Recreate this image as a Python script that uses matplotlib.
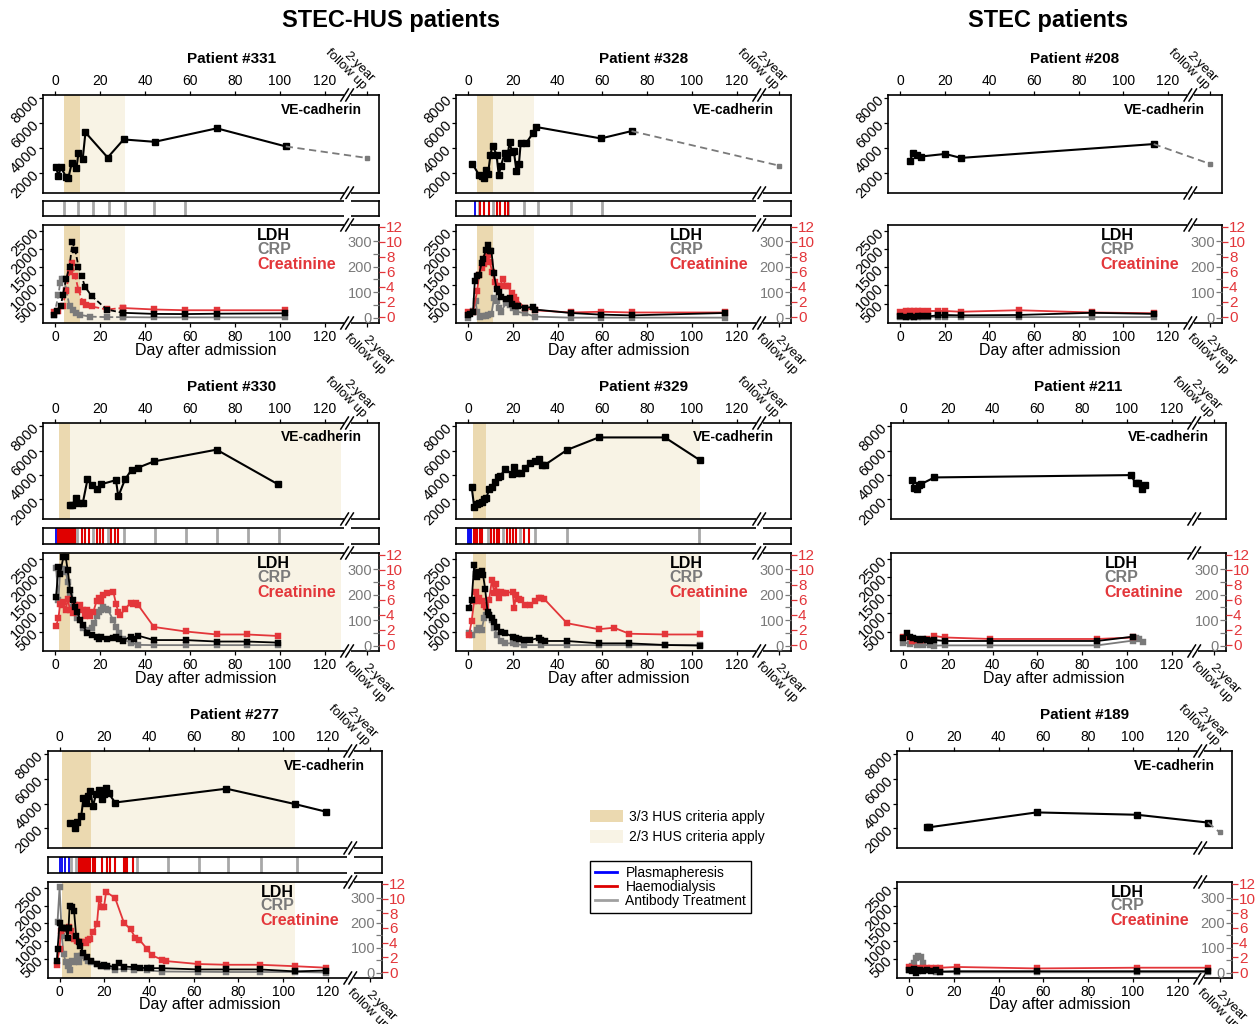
import numpy as np
import matplotlib.pyplot as plt
from matplotlib.patches import Patch
from matplotlib.lines import Line2D

plt.rcParams['font.family'] = ['Liberation Sans', 'DejaVu Sans']

# ---------------- data (day after admission, value) ----------------
# Patient #331
p331_ve_day = [0.4, 1.5, 2.5, 4.9, 5.9, 7.4, 9.5, 10.4, 12.3, 13.5, 23.4, 30.5, 44.3, 72, 102.7]
p331_ve = [2480, 1730, 2480, 1680, 1600, 2810, 2400, 3610, 3160, 5250, 3240, 4690, 4500, 5580, 4130]
p331_ve_fu = 3210
p331_ldh_day = [-0.4, 0.7, 2.5, 3.4, 4.9, 6.4, 7.7, 8.9, 10.4, 11.8, 13.3, 16.3, 23, 30.1, 44, 58, 71.9, 102.5]
p331_ldh = [180, 300, 430, 730, 1170, 1520, 2180, 1980, 1520, 1260, 960, 710, 340, 250, 220, 215, 225, 235]
p331_crp_day = [-0.4, 1.5, 2.2, 3, 4, 4.9, 6.4, 7.9, 9.3, 11.1, 15.6, 23, 30.1, 44, 58, 71.9, 102.5]
p331_crp = [11, 90, 136, 150, 150, 110, 45, 28, 17, 11, 4, 2, 2, 1, 1, 1, 1]
p331_crea_day = [-0.4, 1.5, 3.4, 4.9, 6.4, 7.4, 8.9, 10.4, 12.3, 13.8, 16.3, 23, 30.1, 44, 58, 71.9, 102.5]
p331_crea = [0.7, 0.8, 1.5, 3.5, 6.0, 7.2, 5.5, 3.6, 2.0, 1.6, 1.4, 1.0, 1.2, 1.0, 0.9, 0.9, 0.9]
p331_antibody = [4, 10, 17, 24, 31, 44, 58]

# Patient #328
p328_ve_day = [1.9, 4.8, 6.0, 7.0, 7.9, 8.9, 10.0, 10.9, 12.7, 13.7, 14.6, 16.4, 17.4, 18.6, 19.5, 20.4,
               21.6, 22.7, 23.5, 25.8, 29.1, 30.3, 59.3, 73.0]
p328_ve = [2750, 1870, 1730, 1600, 2270, 1920, 3480, 4200, 3480, 1810, 2540, 3610, 3200, 4500, 3700, 3800,
           2140, 2730, 4420, 4370, 5230, 5690, 4770, 5360]
p328_ve_fu = 2600
p328_ldh_day = [0, 1, 2.2, 3, 4, 4.9, 6, 6.7, 7.9, 8.9, 9.7, 10.4, 11.5, 12.7, 13.9, 14.9, 16.8, 18.6, 19.8,
                20.9, 22.4, 25.3, 29.1, 29.8, 45.8, 59.3, 73, 114.8]
p328_ldh = [180, 225, 270, 1120, 1270, 1290, 1610, 1730, 1970, 2120, 1950, 1950, 1335, 910, 815, 680, 635, 650,
            500, 450, 425, 390, 410, 340, 245, 200, 180, 245]
p328_crp_day = [0, 2.2, 3.4, 4, 5.2, 6.7, 7.9, 8.9, 10.4, 11.6, 12.7, 13.9, 14.9, 16.8, 17.8, 18.6, 20.1,
                21.6, 25.3, 29.8, 45.8, 59.3, 73, 114.8]
p328_crp = [0, 25, 64, 21, 4, 8, 8, 10, 13, 77, 64, 37, 24, 57, 67, 50, 37, 24, 17, 4, 0, 0, 0, 0]
p328_crea_day = [0, 2.2, 4, 4.9, 6, 7, 7.9, 8.9, 9.7, 10.8, 11.9, 13.1, 14.2, 15.6, 16.8, 17.8, 19.4, 20.4,
                 21.6, 25.3, 29.8, 45.8, 59.3, 73, 114.8]
p328_crea = [0.6, 0.7, 3.4, 5.6, 6.5, 7.1, 7.8, 8.2, 7.3, 6.0, 4.7, 4.1, 4.1, 5.1, 4.1, 4.1, 3.2, 2.6, 2.3,
             1.2, 0.9, 0.6, 0.7, 0.6, 0.6]
p328_plasma = [3.3]
p328_dialysis = [5.2, 7.2, 9.3, 13.1, 14.2, 16.7, 17.6]
p328_antibody = [5, 11.2, 17.9, 25, 31, 45.8, 59.9]

# Patient #208
p208_ve_day = [4.3, 6, 7.5, 9.3, 20.2, 27.2, 113.6]
p208_ve = [3000, 3600, 3450, 3320, 3530, 3210, 4320]
p208_ve_fu = 2740
p208_ldh_day = [0, 2.5, 4.5, 6.3, 8.1, 10, 12.3, 16.8, 20.2, 27.2, 53.1, 86, 113.6]
p208_ldh = [150, 140, 150, 140, 150, 150, 150, 180, 190, 180, 190, 250, 220]
p208_crp_day = [0, 2.5, 4.5, 6.3, 8.1, 10, 12.3, 16.8, 20.2, 27.2, 53.1, 86, 113.6]
p208_crp = [2, 2, 2, 2, 2, 2, 2, 3, 3, 2, 2, 2, 2]
p208_crea_day = [0, 2.5, 4.5, 6.3, 8.1, 10, 12.3, 16.8, 20.2, 27.2, 53.1, 86, 113.6]
p208_crea = [0.7, 0.75, 0.8, 0.8, 0.8, 0.75, 0.8, 0.8, 0.8, 0.7, 0.9, 0.6, 0.5]

# Patient #330
p330_ve_day = [6.4, 7.4, 9.3, 10.4, 12.3, 14.4, 16.3, 18.5, 20.3, 27.1, 28.1, 31.1, 34.1, 37, 44, 71.9, 99.3]
p330_ve = [1510, 1510, 2100, 1700, 1700, 3630, 3180, 2850, 3230, 3580, 2240, 3630, 4440, 4600, 5110, 6070, 3230]
p330_ldh_day = [0.4, 1.5, 2.2, 3.7, 4.7, 5.6, 6.7, 7.9, 8.9, 9.9, 11.1, 12.3, 14.4, 16.3, 18.5, 19.6, 20.3,
                23, 25.9, 27.1, 28.6, 30.1, 33.6, 35.1, 37, 44, 58.1, 71.9, 85.5, 99.3]
p330_ldh = [1455, 2270, 2090, 2560, 2560, 2180, 1640, 1360, 1180, 1045, 820, 680, 455, 410, 365, 290, 365,
            290, 320, 365, 290, 255, 365, 290, 390, 270, 270, 230, 230, 200]
p330_crp_day = [0.4, 1.5, 2.2, 3.7, 4.7, 5.6, 6.7, 7.9, 9.9, 12.3, 14.4, 16.3, 17.5, 18.5, 19.6, 20.3, 21.5,
                22.5, 23.5, 25.9, 27.1, 28.6, 30.1, 33.6, 37, 44, 58.1, 71.9, 85.5, 99.3]
p330_crp = [305, 180, 290, 300, 290, 250, 200, 150, 110, 70, 60, 70, 90, 115, 130, 140, 150, 145, 140, 100,
            75, 50, 25, 12, 3, 2, 2, 2, 2, 2]
p330_crea_day = [0.4, 1.5, 2.2, 2.9, 3.7, 4.7, 5.6, 6.7, 7.9, 8.9, 9.9, 11.1, 12.3, 13.3, 14.4, 15.6, 17.0,
                 18.5, 19.6, 20.3, 21.5, 23, 25.9, 27.1, 28.1, 29.1, 31.1, 33.6, 34.8, 36.1, 37, 44, 58.1,
                 71.9, 85.5, 99.3]
p330_crea = [2.5, 3.6, 5.5, 5.3, 5.7, 4.6, 6.1, 4.6, 4.2, 5.3, 5.1, 5.3, 4.6, 3.9, 4.7, 3.8, 4.4, 5.9, 6.3,
             5.9, 6.7, 6.9, 7.1, 5.5, 4.4, 4.0, 4.8, 5.6, 5.4, 5.6, 5.3, 2.4, 1.8, 1.4, 1.4, 1.2]
p330_plasma = [0.6]
p330_dialysis = [1.5, 2.3, 3.1, 3.9, 4.7, 5.5, 6.3, 7.1, 7.9, 9.0, 12.0, 13.5, 15.0, 18.5, 20.0, 21.5,
                 25.0, 26.5, 28.0]
p330_antibody = [9.9, 16.8, 23.7, 30.5, 44.4, 58.1, 72.1, 86.0, 99.7]

# Patient #329
p329_ve_day = [1.6, 2.7, 3.9, 4.9, 6.1, 7.2, 8.2, 9.4, 10.6, 12, 13.5, 14.3, 16.6, 19.6, 20.6, 21.7, 23.6,
               25.6, 27.7, 30, 31.5, 33, 34.5, 44.2, 58.3, 87.9, 103.6]
p329_ve = [3010, 1410, 1600, 1730, 1810, 2000, 2130, 2850, 3010, 3390, 3810, 3920, 4450, 4080, 4670, 4190,
           4190, 4590, 4990, 5150, 5330, 4800, 4850, 6050, 7070, 7070, 5200]
p329_ldh_day = [0.4, 1.6, 2.7, 3.4, 3.9, 4.9, 6, 6.7, 7.6, 8.7, 9.4, 10.6, 11.7, 12.9, 14.6, 16.6, 19.9,
                21.4, 22.9, 25.1, 27.7, 31.5, 32.6, 34.5, 44.2, 58.3, 71.9, 87.9, 103.6]
p329_ldh = [1140, 1360, 2340, 2090, 2000, 2140, 2160, 2050, 1680, 1045, 955, 865, 775, 635, 500, 455, 365,
            320, 300, 275, 275, 320, 275, 245, 245, 180, 180, 135, 120]
p329_crp_day = [0.4, 1.6, 3.9, 4.9, 6.0, 7.2, 8.2, 9.4, 10.6, 11.7, 12.9, 14.6, 16.6, 19.9, 21.4, 25.1,
                32.6, 44.2, 58.3, 71.9, 87.9, 103.6]
p329_crp = [49, 42, 62, 69, 62, 108, 121, 119, 102, 69, 42, 18, 9, 9, 5, 2, 2, 2, 2, 2, 2, 2]
p329_crea_day = [0.4, 1.6, 2.7, 3.4, 3.9, 4.9, 6.0, 7.2, 8.2, 9.4, 10.6, 11.7, 12.4, 12.9, 13.9, 14.6, 15.7,
                 16.9, 19.9, 20.6, 21.4, 22.6, 23.6, 25.6, 27.7, 30, 31.5, 32.6, 34.1, 44.2, 58.3, 65.2,
                 71.9, 87.9, 103.6]
p329_crea = [1.3, 3.2, 5.9, 7.1, 5.9, 6.2, 5.8, 5.3, 5.0, 6.0, 8.6, 6.9, 8.1, 7.1, 6.2, 7.1, 6.9, 6.9, 7.1,
             4.9, 6.7, 6.1, 6.0, 5.3, 5.3, 5.8, 6.2, 6.3, 6.1, 2.9, 2.1, 2.3, 1.5, 1.4, 1.4]
p329_plasma = [-0.2, 0.3, 0.8, 1.3]
p329_dialysis = [2.5, 3.3, 4.2, 5.2, 6.3, 10.4, 11.5, 12.7, 13.9, 17.2, 18.7, 19.9, 21.4, 25.0, 27.0]
p329_antibody = [8.7, 15.7, 23.2, 30.0, 44.2, 103.0]

# Patient #211
p211_ve_day = [4.2, 4.8, 6, 7.2, 8.2, 14, 101.7, 103.8, 105, 106.8, 108]
p211_ve = [3550, 2930, 2870, 3140, 3270, 3800, 3990, 3350, 3350, 2820, 3140]
p211_ldh_day = [0, 1.8, 3, 4.5, 6, 7.5, 9, 10.5, 12, 14, 18.8, 39, 86.6, 102.8]
p211_ldh = [320, 460, 365, 320, 300, 270, 300, 270, 250, 270, 245, 245, 245, 365]
p211_crp_day = [0, 3, 6, 9, 12, 14, 18.8, 39, 86.6, 102.8, 104, 105.5, 107]
p211_crp = [12, 8, 3, 1, 3, 0, 1, 1, 1, 20, 28, 25, 15]
p211_crea_day = [0, 1.8, 3.8, 6, 7.5, 9, 10.5, 12, 14, 18.8, 39, 86.6, 102.8]
p211_crea = [1.0, 1.0, 0.5, 0.6, 0.7, 0.7, 0.8, 0.7, 1.2, 1.0, 0.8, 0.8, 1.0]

# Patient #277
p277_ve_day = [4.8, 6.7, 8, 9.7, 10.7, 11.7, 12.6, 13.7, 14.9, 16.4, 17.7, 18.9, 19.9, 20.8, 21.9, 24.8,
               74.6, 105.4, 119.3]
p277_ve = [2400, 2000, 2530, 2990, 4480, 4050, 4590, 5010, 3790, 4800, 5120, 4350, 4750, 5280, 4850, 4080,
           5200, 3950, 3330]
p277_ldh_day = [-1.2, -0.9, 0, 1, 1.8, 2.8, 3.6, 4.0, 4.5, 5.5, 6.5, 7.4, 8.5, 9.2, 10.7, 12.2, 14, 16.7,
                18.4, 19.9, 21.4, 24.8, 26.8, 28.8, 33.3, 36, 39, 40.7, 45.7, 62, 74.6, 89.5, 105.4, 119.3]
p277_ldh = [455, 775, 1520, 1360, 1360, 1360, 1090, 1360, 2000, 1970, 1840, 1140, 975, 865, 680, 545, 455,
            365, 320, 345, 320, 275, 380, 290, 275, 260, 245, 245, 245, 210, 210, 210, 155, 180]
p277_crp_day = [-0.9, 0, 1, 1.8, 2.8, 3.7, 4.8, 5.5, 6.5, 7.7, 8.8, 9.7, 10.7, 11.7, 12.9, 14, 16.7, 18.4,
                21.4, 24.8, 28.8, 33.3, 39, 45.7, 62, 74.6, 89.5, 105.4, 119.3]
p277_crp = [205, 342, 146, 74, 42, 29, 13, 48, 42, 68, 42, 68, 70, 61, 48, 42, 35, 29, 22, 13, 16, 13, 10, 5,
            4, 3, 3, 3, 1]
p277_crea_day = [-1.2, 0, 0.5, 1.8, 2.8, 4.0, 5.0, 6.5, 8.0, 9.5, 10.7, 11.7, 12.9, 13.7, 14.9, 16.7, 17.7,
                 18.9, 19.9, 20.8, 24.8, 28.8, 31.8, 33.8, 35.7, 39, 41.2, 45.7, 47.6, 62, 74.6, 89.5,
                 105.4, 119.3]
p277_crea = [1.0, 3.2, 5.6, 5.9, 5.9, 6.1, 5.6, 4.5, 4.2, 4.1, 4.1, 4.0, 4.3, 4.5, 5.4, 6.5, 10.0, 8.9, 8.9,
             10.9, 10.1, 6.7, 5.8, 4.7, 4.4, 3.2, 2.3, 1.7, 1.5, 1.1, 1.0, 1.0, 0.8, 0.6]
p277_plasma = [0.3, 1.0, 2.5, 4.0]
p277_dialysis = [8.5, 9.2, 9.9, 10.6, 11.3, 12.0, 12.7, 13.4, 15.0, 16.0, 19.0, 21.2, 22.7, 24.9, 28.7,
                 29.4, 30.1, 33.0]
p277_antibody = [5.2, 7.5, 34.5, 48.3, 62.3, 75.5, 90.2, 106.2]

# Patient #189
p189_ve_day = [7.9, 9.1, 56.9, 101.8, 133.4]
p189_ve = [2080, 2080, 3280, 3090, 2460]
p189_ve_fu = 1670
p189_ldh_day = [0, 1.2, 2, 3, 4, 5, 6, 8, 10, 12, 14, 21.5, 56.9, 101.8, 133.4]
p189_ldh = [200, 160, 230, 120, 180, 200, 170, 190, 170, 190, 150, 160, 160, 160, 160]
p189_crp_day = [0, 1.2, 2, 3.1, 4.2, 5.2, 6.1, 8, 12, 14, 21.5, 56.9, 101.8, 133.4]
p189_crp = [10, 26, 39, 59, 66, 63, 39, 10, 5, 3, 2, 2, 2, 2]
p189_crea_day = [0, 2, 4, 6, 8, 10, 12, 14, 21.5, 56.9, 101.8, 133.4]
p189_crea = [0.7, 0.6, 0.6, 0.6, 0.6, 0.6, 0.6, 0.6, 0.7, 0.5, 0.6, 0.6]

# ---------------- layout / style ----------------
W, H = 1260, 1024
XLIM = (-5.4, 144.2)
XBREAK = 130.0
FU = 138.7
DAY_TICKS = [0, 20, 40, 60, 80, 100, 120]
VE_TICKS = [2000, 4000, 6000, 8000]
LDH_TICKS = [500, 1000, 1500, 2000, 2500]
VE_LIM = (400, 8250)
LDH_LIM = (-30, 2660)
CRP_LIM = (-21, 363)
CREA_LIM = (-0.8, 12.25)

DARK = '#EBD9B0'
LIGHT = '#F8F3E5'
RED = '#E3363A'
GREY = '#7A7A7A'
T_BLUE = '#1010F0'
T_RED = '#E00000'
T_GREY = '#A8A8A8'

ROWS = [(95, 193, 201, 216, 225, 323),
        (423, 519, 528, 544, 553, 651),
        (751, 848, 857, 873, 882, 978)]

fig = plt.figure(figsize=(W / 100, H / 100), dpi=100)


def px_axes(x0, x1, y0, y1):
    return fig.add_axes([x0 / W, 1 - y1 / H, (x1 - x0) / W, (y1 - y0) / H])


def add_break(ax, hpx, slashes=True):
    tr = ax.get_xaxis_transform()
    dy = 6.0 / hpx
    for yy in (0.0, 1.0):
        ax.plot([XBREAK - 1.6, XBREAK + 1.6], [yy, yy], color='white', lw=2.6,
                transform=tr, clip_on=False, zorder=10, solid_capstyle='butt')
        if not slashes:
            continue
        for dx in (-1.1, 1.1):
            ax.plot([XBREAK + dx - 1.7, XBREAK + dx + 1.7], [yy - dy, yy + dy], color='black',
                    lw=1.1, transform=tr, clip_on=False, zorder=11)


def plot_series(ax, days, vals, color, dash_to=None):
    days = np.asarray(days, float)
    vals = np.asarray(vals, float)
    kw = dict(color=color, lw=1.3, marker='s', ms=3.7, mec=color, mew=0.3)
    if dash_to is None:
        ax.plot(days, vals, **kw)
    else:
        k = int(np.searchsorted(days, dash_to))
        ax.plot(days[:k + 1], vals[:k + 1], ls=(0, (3, 1.6)), **kw)
        ax.plot(days[k:], vals[k:], **kw)


def fu_label(ax, top):
    if top:
        ax.annotate('2-year\nfollow up', xy=(FU, 1), xycoords=ax.get_xaxis_transform(),
                    xytext=(-5, 2), textcoords='offset points', rotation=-45,
                    rotation_mode='anchor', ha='right', va='bottom', fontsize=9.5,
                    linespacing=0.95, multialignment='right')
    else:
        ax.annotate('2-year\nfollow up', xy=(FU, 0), xycoords=ax.get_xaxis_transform(),
                    xytext=(-6, 0), textcoords='offset points', rotation=-45,
                    rotation_mode='anchor', ha='left', va='top', fontsize=9.5,
                    linespacing=0.95, multialignment='right')


def draw_patient(xr, row, title, ve_day, ve, ldh_day, ldh, crp_day, crp, crea_day, crea,
                 ve_fu=None, hus3=None, hus2=None, plasma=None, dialysis=None, antibody=None,
                 strip=True, dash_to=None):
    x0, x1 = xr
    t0, t1, s0, s1, b0, b1 = ROWS[row]
    ax_t = px_axes(x0, x1, t0, t1)
    ax_b = px_axes(x0, x1, b0, b1)
    for ax, hpx in ((ax_t, t1 - t0), (ax_b, b1 - b0)):
        ax.set_xlim(XLIM)
        for sp in ax.spines.values():
            sp.set_linewidth(1.2)
        if hus3:
            ax.axvspan(*hus3, color=DARK, lw=0, zorder=0)
        if hus2:
            ax.axvspan(*hus2, color=LIGHT, lw=0, zorder=0)
        add_break(ax, hpx)
        ax.tick_params(labelsize=10, length=3.2, width=0.9, pad=1.5)
        ax.tick_params(axis='y', labelsize=10.5)

    # --- VE-cadherin panel
    ax_t.set_ylim(VE_LIM)
    ax_t.xaxis.tick_top()
    ax_t.set_xticks(DAY_TICKS + [FU], labels=[str(d) for d in DAY_TICKS] + [''])
    ax_t.set_yticks(VE_TICKS, labels=[str(v) for v in VE_TICKS], rotation=45, ha='right',
                    va='center', rotation_mode='anchor')
    ax_t.plot(ve_day, ve, color='black', lw=1.5, marker='s', ms=3.7)
    if ve_fu is not None:
        ax_t.plot([ve_day[-1], FU], [ve[-1], ve_fu], color=GREY, lw=1.3, ls=(0, (4, 2.5)))
        ax_t.plot([FU], [ve_fu], 's', color=GREY, ms=3.2)
    ax_t.text(0.95, 0.85, 'VE-cadherin', transform=ax_t.transAxes, ha='right', va='center',
              fontsize=10, fontweight='bold')
    ax_t.annotate(title, xy=(0.56, 1), xycoords='axes fraction', xytext=(0, 26),
                  textcoords='offset points', ha='center', va='center', fontsize=11,
                  fontweight='bold')
    fu_label(ax_t, True)

    # --- treatment strip
    if strip:
        ax_s = px_axes(x0, x1, s0, s1)
        ax_s.set_xlim(XLIM)
        ax_s.set_ylim(0, 1)
        ax_s.set_xticks([])
        ax_s.set_yticks([])
        for sp in ax_s.spines.values():
            sp.set_linewidth(1.2)
        if antibody:
            ax_s.vlines(antibody, 0, 1, color=T_GREY, lw=2.0)
        if dialysis:
            ax_s.vlines(dialysis, 0, 1, color=T_RED, lw=1.5)
        if plasma:
            ax_s.vlines(plasma, 0, 1, color=T_BLUE, lw=1.4)
        add_break(ax_s, s1 - s0, slashes=False)

    # --- LDH / CRP / creatinine panel
    ax_b.set_ylim(LDH_LIM)
    ax_b.set_xticks(DAY_TICKS + [FU], labels=[str(d) for d in DAY_TICKS] + [''])
    ax_b.set_yticks(LDH_TICKS, labels=[str(v) for v in LDH_TICKS], rotation=45, ha='right',
                    va='center', rotation_mode='anchor')

    ax_crp = ax_b.twinx()
    ax_crp.set_ylim(CRP_LIM)
    for sp in ax_crp.spines.values():
        sp.set_visible(False)
    ax_crp.yaxis.tick_left()
    ax_crp.spines['left'].set_position(('axes', 1.0))
    ax_crp.set_yticks([0, 100, 200, 300])
    ax_crp.set_yticks([50, 150, 250], minor=True)
    ax_crp.tick_params(axis='y', which='both', colors=GREY, labelsize=10.5, length=4, width=0.9, pad=1)

    ax_cr = ax_b.twinx()
    ax_cr.set_ylim(CREA_LIM)
    for sp in ax_cr.spines.values():
        sp.set_visible(False)
    ax_cr.set_yticks(range(0, 13, 2))
    ax_cr.tick_params(axis='y', colors=RED, labelsize=11, length=4, width=0.9, pad=1)

    ax_l = ax_b.twinx()
    ax_l.set_ylim(LDH_LIM)
    ax_l.set_yticks([])
    for sp in ax_l.spines.values():
        sp.set_visible(False)

    plot_series(ax_crp, crp_day, crp, GREY, dash_to)
    plot_series(ax_cr, crea_day, crea, RED, dash_to)
    plot_series(ax_l, ldh_day, ldh, 'black', dash_to)

    for lab, col, yy in (('LDH', 'black', 0.89), ('CRP', GREY, 0.75), ('Creatinine', RED, 0.595)):
        ax_l.text(0.637, yy, lab, transform=ax_l.transAxes, ha='left', va='center', color=col,
                  fontsize=11.5, fontweight='bold')
    ax_b.text(0.485, -0.28, 'Day after admission', transform=ax_b.transAxes, ha='center',
              va='center', fontsize=11.5)
    fu_label(ax_b, False)


draw_patient((43, 379), 0, 'Patient #331', p331_ve_day, p331_ve, p331_ldh_day, p331_ldh,
             p331_crp_day, p331_crp, p331_crea_day, p331_crea, ve_fu=p331_ve_fu,
             hus3=(4, 11), hus2=(11, 31), antibody=p331_antibody, dash_to=30)
draw_patient((456, 791), 0, 'Patient #328', p328_ve_day, p328_ve, p328_ldh_day, p328_ldh,
             p328_crp_day, p328_crp, p328_crea_day, p328_crea, ve_fu=p328_ve_fu,
             hus3=(4, 11.2), hus2=(11.2, 29.4), plasma=p328_plasma, dialysis=p328_dialysis,
             antibody=p328_antibody)
draw_patient((888, 1222), 0, 'Patient #208', p208_ve_day, p208_ve, p208_ldh_day, p208_ldh,
             p208_crp_day, p208_crp, p208_crea_day, p208_crea, ve_fu=p208_ve_fu, strip=False)
draw_patient((43, 379), 1, 'Patient #330', p330_ve_day, p330_ve, p330_ldh_day, p330_ldh,
             p330_crp_day, p330_crp, p330_crea_day, p330_crea,
             hus3=(1.8, 6.7), hus2=(6.7, 127.5), plasma=p330_plasma, dialysis=p330_dialysis,
             antibody=p330_antibody)
draw_patient((456, 791), 1, 'Patient #329', p329_ve_day, p329_ve, p329_ldh_day, p329_ldh,
             p329_crp_day, p329_crp, p329_crea_day, p329_crea,
             hus3=(2.2, 7.9), hus2=(7.9, 103.6), plasma=p329_plasma, dialysis=p329_dialysis,
             antibody=p329_antibody)
draw_patient((891, 1226), 1, 'Patient #211', p211_ve_day, p211_ve, p211_ldh_day, p211_ldh,
             p211_crp_day, p211_crp, p211_crea_day, p211_crea, strip=False)
draw_patient((47.5, 382), 2, 'Patient #277', p277_ve_day, p277_ve, p277_ldh_day, p277_ldh,
             p277_crp_day, p277_crp, p277_crea_day, p277_crea,
             hus3=(1.0, 14), hus2=(14, 105.4), plasma=p277_plasma, dialysis=p277_dialysis,
             antibody=p277_antibody)
draw_patient((897, 1232), 2, 'Patient #189', p189_ve_day, p189_ve, p189_ldh_day, p189_ldh,
             p189_crp_day, p189_crp, p189_crea_day, p189_crea, ve_fu=p189_ve_fu, strip=False)

fig.text(391 / W, 1 - 20 / H, 'STEC-HUS patients', ha='center', va='center', fontsize=17,
         fontweight='bold')
fig.text(1048 / W, 1 - 20 / H, 'STEC patients', ha='center', va='center', fontsize=17,
         fontweight='bold')

fig.legend(handles=[Patch(facecolor=DARK, edgecolor='none', label='3/3 HUS criteria apply'),
                    Patch(facecolor=LIGHT, edgecolor='none', label='2/3 HUS criteria apply')],
           loc='upper left', bbox_to_anchor=(590 / W, 1 - 810 / H), frameon=False, fontsize=10,
           handlelength=2.4, handleheight=1.0, handletextpad=0.4, labelspacing=0.45,
           borderpad=0, borderaxespad=0)
leg2 = fig.legend(handles=[Line2D([], [], color='#0000FF', lw=2, label='Plasmapheresis'),
                           Line2D([], [], color='#DD0000', lw=2, label='Haemodialysis'),
                           Line2D([], [], color='#A0A0A0', lw=2, label='Antibody Treatment')],
                  loc='upper left', bbox_to_anchor=(590 / W, 1 - 861 / H), frameon=True,
                  fancybox=False, edgecolor='black', framealpha=1, fontsize=10,
                  handlelength=1.6, handletextpad=0.6, labelspacing=0.0, borderpad=0.35,
                  borderaxespad=0)
leg2.get_frame().set_linewidth(1.0)

fig.savefig('out.png', dpi=100)
